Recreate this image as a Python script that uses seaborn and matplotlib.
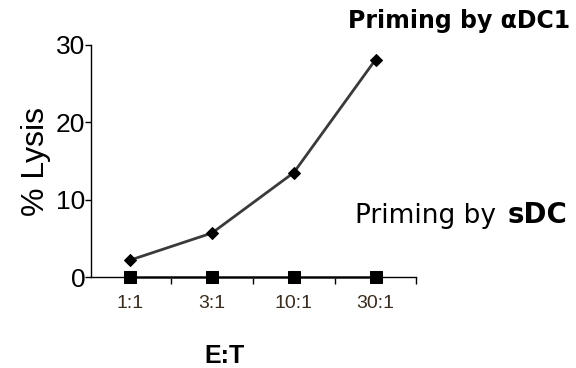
import matplotlib
matplotlib.use("Agg")
import matplotlib.pyplot as plt
import seaborn as sns
import pandas as pd
from matplotlib.ticker import FixedLocator

ratios = ["1:1", "3:1", "10:1", "30:1"]
lysis_adc1 = [2.2, 5.7, 13.5, 28.1]
lysis_sdc = [0.0, 0.0, 0.0, 0.0]
y_ticks = [0, 10, 20, 30]

sns.set_style("white")
plt.rcParams["font.family"] = ["Liberation Sans", "DejaVu Sans"]
plt.rcParams["text.color"] = "black"
plt.rcParams["axes.labelcolor"] = "black"
plt.rcParams["ytick.color"] = "black"

df = pd.DataFrame({
    "ratio": ratios * 2,
    "lysis": lysis_adc1 + lysis_sdc,
    "group": ["aDC1"] * 4 + ["sDC"] * 4,
})

fig = plt.figure(figsize=(5.76, 3.68), dpi=100)
ax = fig.add_axes([0.158, 0.247, 0.565, 0.631])

sns.lineplot(data=df[df.group == "aDC1"], x="ratio", y="lysis", ax=ax,
             color="#3a3a3a", lw=2, marker="D", markersize=6,
             markerfacecolor="black", markeredgecolor="black", clip_on=False)
sns.lineplot(data=df[df.group == "sDC"], x="ratio", y="lysis", ax=ax,
             color="#444444", lw=2, marker="s", markersize=8.5,
             markerfacecolor="black", markeredgecolor="black", clip_on=False)

ax.set_xlim(-0.48, 3.5)
ax.set_ylim(0, 30)
ax.set_yticks(y_ticks)
ax.set_yticklabels([str(v) for v in y_ticks], fontsize=19, color="black")
ax.set_xticks(range(len(ratios)))
ax.set_xticklabels(ratios, fontsize=14, color="#3a2c1e")
ax.xaxis.set_minor_locator(FixedLocator([0.5, 1.5, 2.5, 3.5]))
ax.tick_params(axis="x", which="major", length=0, pad=13)
ax.tick_params(axis="x", which="minor", length=5, width=1, color="black", direction="out", bottom=True)
ax.tick_params(axis="y", length=4, width=1, color="black", direction="out", left=True, pad=0)

for s in ["top", "right"]:
    ax.spines[s].set_visible(False)
for s in ["left", "bottom"]:
    ax.spines[s].set_color("black")
    ax.spines[s].set_linewidth(1)

ax.set_xlabel("")
ax.set_ylabel("% Lysis", fontsize=23, labelpad=4, color="black")

fig.text(224 / 576, 1 - 356 / 368, "E:T", fontsize=18, fontweight="bold",
         ha="center", va="center", color="black")
fig.text(348 / 576, 1 - 28 / 368, "Priming by \u03b1DC1", fontsize=17,
         fontweight="bold", ha="left", va="baseline", family="DejaVu Sans",
         color="black")
fig.text(355 / 576, 1 - 223 / 368, "Priming by", fontsize=19,
         ha="left", va="baseline", family="DejaVu Sans", color="black")
fig.text(508 / 576, 1 - 223 / 368, "sDC", fontsize=20, fontweight="bold",
         ha="left", va="baseline", family="DejaVu Sans", color="black")

fig.savefig("out.png", dpi=100)
